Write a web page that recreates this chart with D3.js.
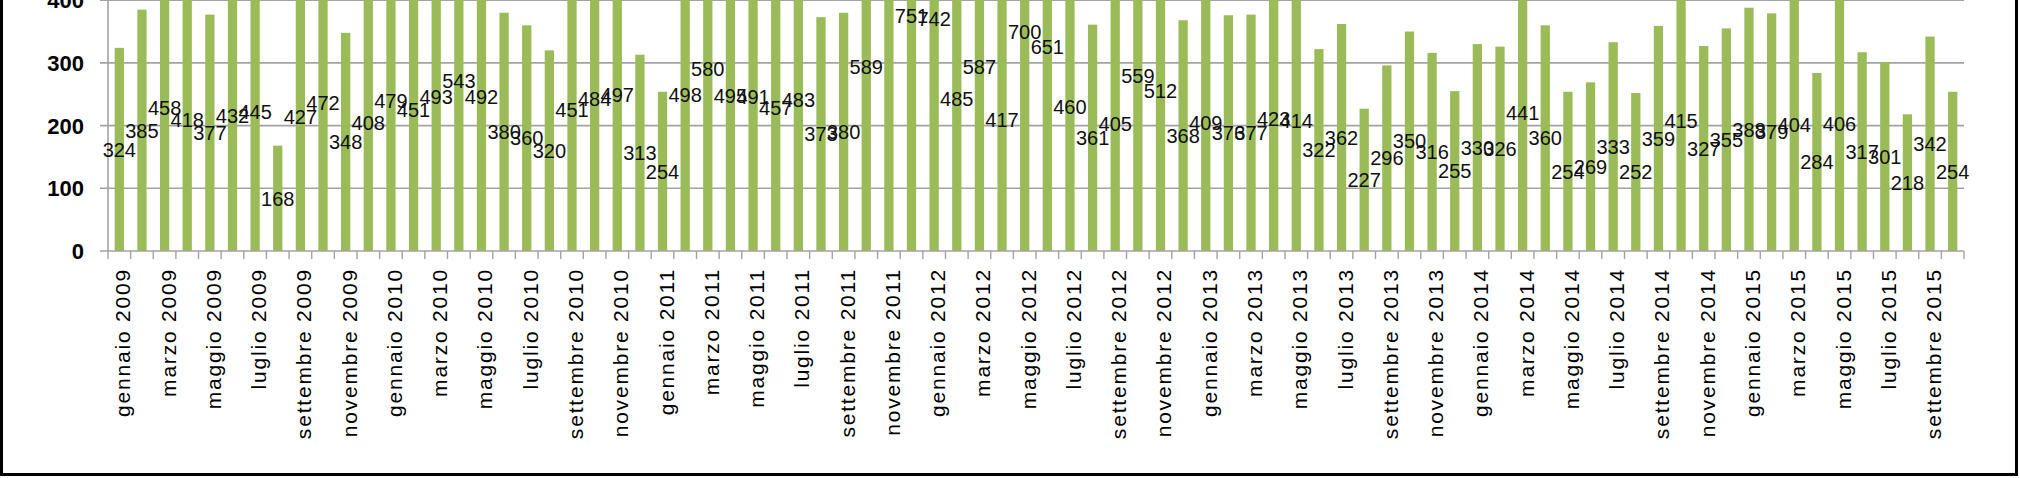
<!DOCTYPE html>
<html>
<head>
<meta charset="utf-8">
<script src="https://cdn.jsdelivr.net/npm/d3@7"></script>
<style>
  html, body { margin: 0; padding: 0; background: #fff; }
  svg { display: block; }
</style>
</head>
<body>
<svg id="chart" width="2020" height="478"></svg>
<script>
// ---- data ----
const months = ["gennaio","febbraio","marzo","aprile","maggio","giugno",
                "luglio","agosto","settembre","ottobre","novembre","dicembre"];
const years = [2009, 2010, 2011, 2012, 2013, 2014, 2015];
const values = [
  324,385,458,418,377,432,445,168,427,472,348,408,   // 2009
  479,451,493,543,492,380,360,320,451,484,497,313,   // 2010
  254,498,580,495,491,457,483,373,380,589,860,751,   // 2011
  742,485,587,417,700,651,460,361,405,559,512,368,   // 2012
  409,376,377,423,414,322,362,227,296,350,316,255,   // 2013
  330,326,441,360,254,269,333,252,359,415,327,355,   // 2014
  388,379,404,284,406,317,301,218,342,254            // 2015 (gen-ott)
];
const yTicks = [0,100,200,300,400,500,600,700,800,900];

// categories built from months x years
const categories = [];
years.forEach(yr => months.forEach(m => categories.push(m + " " + yr)));
categories.length = values.length;
const data = values.map((v, i) => ({cat: categories[i], v, i}));

// ---- layout ----
const svg = d3.select("#chart");
const plotL = 108, plotR = 1964, y0 = 251;
const pxPer100 = 62.7;

const x = d3.scaleBand().domain(categories).range([plotL, plotR])
  .paddingInner(0.59).paddingOuter(0.295);
const y = d3.scaleLinear().domain([0, 900]).range([y0, y0 - 9 * pxPer100]);
const step = x.step();

// gridlines
svg.append("g").selectAll("line").data(yTicks.filter(t => t > 0)).join("line")
  .attr("x1", plotL - 8).attr("x2", plotR)
  .attr("y1", d => y(d)).attr("y2", d => y(d))
  .attr("stroke", "#a3a3a3").attr("stroke-width", 1.6);

// bars
svg.append("g").selectAll("rect").data(data).join("rect")
  .attr("x", d => x(d.cat)).attr("width", x.bandwidth())
  .attr("y", d => y(d.v)).attr("height", d => y(0) - y(d.v))
  .attr("fill", "#9bbb59");

// y axis line
svg.append("line").attr("x1", plotL).attr("x2", plotL)
  .attr("y1", y(900)).attr("y2", y0)
  .attr("stroke", "#a3a3a3").attr("stroke-width", 1.6);

// x axis line
svg.append("line").attr("x1", plotL - 8).attr("x2", plotR)
  .attr("y1", y0).attr("y2", y0)
  .attr("stroke", "#a3a3a3").attr("stroke-width", 1.6);

// x ticks at category boundaries
const bounds = categories.map(c => x(c) - (step - x.bandwidth()) / 2);
bounds.push(plotR);
svg.append("g").selectAll("line").data(bounds).join("line")
  .attr("x1", d => d).attr("x2", d => d)
  .attr("y1", y0).attr("y2", y0 + 8)
  .attr("stroke", "#a3a3a3").attr("stroke-width", 1.4);

// y tick labels
svg.append("g").selectAll("text").data(yTicks).join("text")
  .attr("x", 84).attr("y", d => y(d))
  .attr("dy", "0.36em")
  .attr("text-anchor", "end")
  .attr("font-family", "Liberation Sans, Arial, sans-serif")
  .attr("font-weight", "bold").attr("font-size", 22)
  .attr("fill", "#000")
  .text(d => d);

// x tick labels (every other month)
svg.append("g").selectAll("text").data(data.filter(d => d.i % 2 === 0)).join("text")
  .attr("transform", d => `translate(${x(d.cat) + x.bandwidth() / 2},268) rotate(-90)`)
  .attr("dy", 11)
  .attr("text-anchor", "end")
  .attr("font-family", "Liberation Sans, Arial, sans-serif")
  .attr("font-size", 21)
  .attr("letter-spacing", "1.8px")
  .attr("fill", "#000")
  .text(d => d.cat);

// data labels at middle of bars
svg.append("g").selectAll("text").data(data).join("text")
  .attr("x", d => x(d.cat) + x.bandwidth() / 2)
  .attr("y", d => y(d.v / 2))
  .attr("dy", "0.36em")
  .attr("text-anchor", "middle")
  .attr("font-family", "Liberation Sans, Arial, sans-serif")
  .attr("font-size", 20)
  .attr("fill", "#111")
  .text(d => d.v);

// outer frame
svg.append("rect").attr("x", 1.5).attr("y", -20)
  .attr("width", 2015).attr("height", 494.5)
  .attr("fill", "none").attr("stroke", "#000").attr("stroke-width", 3);
</script>
</body>
</html>
